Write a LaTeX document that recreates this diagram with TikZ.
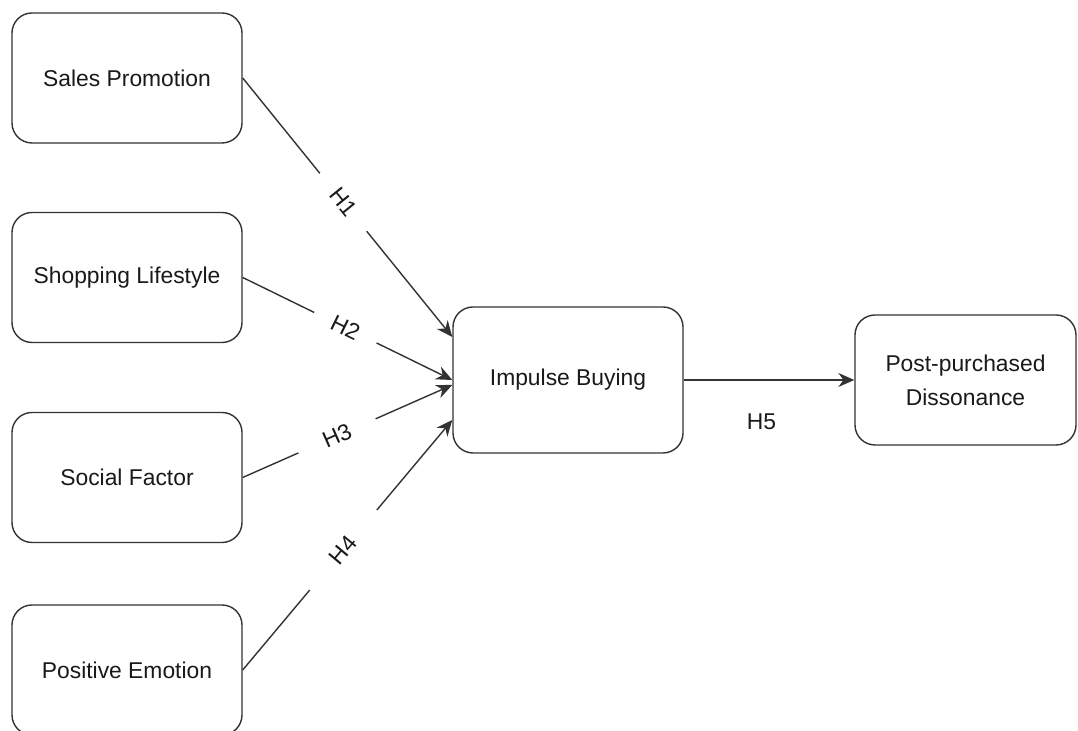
\documentclass[tikz,border=0pt]{standalone}
\usepackage{fontspec}
\setmainfont{Liberation Sans}
\usetikzlibrary{arrows.meta}

\begin{document}
\begin{tikzpicture}[
	box/.style={draw=black!80, line width=0.8pt, rounded corners=0.4cm, minimum width=4.6cm, minimum height=2.6cm, align=center, font=\fontsize{13}{19.5}\selectfont, text=black!90},
	link/.style={draw=black!80, line width=0.8pt, -{Stealth[length=0.32cm, width=0.28cm]}},
	hlabel/.style={sloped, fill=white, inner xsep=0.45cm, font=\fontsize{13}{16}\selectfont, text=black!90}
]
	\useasboundingbox (0,0) rectangle (21.56,14.62);

	% left column
	\node[box] (sp) at (2.54,13.06) {Sales Promotion};
	\node[box] (sl) at (2.54,9.07) {Shopping Lifestyle};
	\node[box] (sf) at (2.54,5.07) {Social Factor};
	\node[box] (pe) at (2.54,1.22) {Positive Emotion};

	% middle and right
	\node[box, minimum height=2.92cm] (ib) at (11.36,7.02) {Impulse Buying};
	\node[box, minimum width=4.42cm] (pd) at (19.31,7.02) {Post-purchased\\Dissonance};

	\draw[link] (sp.east) -- ([yshift=0.86cm]ib.west) node[hlabel, pos=0.48] {H1};
	\draw[link] (sl.east) -- (ib.west) node[hlabel, pos=0.49, inner xsep=0.4cm] {H2};
	\draw[link] (sf.east) -- ([yshift=-0.1cm]ib.west) node[hlabel, pos=0.45, inner xsep=0.55cm] {H3};
	\draw[link] (pe.east) -- ([yshift=-0.8cm]ib.west) node[hlabel, pos=0.48, inner xsep=0.75cm] {H4};

	\draw[link] (ib.east) -- (pd.west) node[midway, below=0.55cm, font=\fontsize{13}{16}\selectfont, text=black!90, xshift=-0.15cm] {H5};
\end{tikzpicture}
\end{document}
